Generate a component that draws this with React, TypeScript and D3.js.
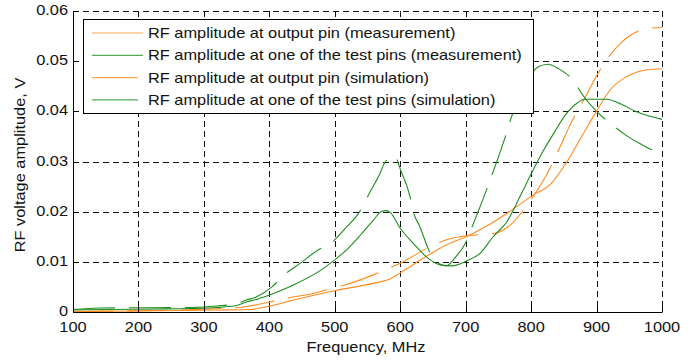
import React, { useRef, useEffect } from "react";
import * as d3 from "d3";

// frequency (MHz) / amplitude (V)
const outMeasFreq = [100, 172, 289, 325, 360, 401, 411, 432, 467, 495, 518, 559, 579, 600, 656, 679, 712, 745, 765, 801, 819, 847, 857, 888, 898, 936, 956, 977, 1000];
const outMeasAmp = [0.0001, 0.0002, 0.0005, 0.0007, 0.001, 0.002, 0.0023, 0.0029, 0.0037, 0.0047, 0.0055, 0.0074, 0.0085, 0.0097, 0.0137, 0.0147, 0.0153, 0.0157, 0.017, 0.0226, 0.0263, 0.0337, 0.0366, 0.0441, 0.0466, 0.0535, 0.0555, 0.0565, 0.0567];

const testMeasFreq = [100, 140, 280, 320, 350, 365, 380, 404, 421, 448, 475, 495, 517, 537, 553, 569, 577, 592, 600, 615, 620, 630, 646, 660, 670, 685, 700, 709, 732, 741, 762, 770, 790, 811, 826, 842, 867, 877, 900, 926, 944, 970, 1000];
const testMeasAmp = [0.0005, 0.0008, 0.0009, 0.0012, 0.0017, 0.0024, 0.003, 0.005, 0.0072, 0.0098, 0.0124, 0.0138, 0.0168, 0.0198, 0.0237, 0.0276, 0.0299, 0.0311, 0.0285, 0.023, 0.02, 0.017, 0.0117, 0.0096, 0.0092, 0.011, 0.0138, 0.0167, 0.0244, 0.0276, 0.0355, 0.0389, 0.045, 0.0489, 0.0494, 0.0485, 0.0457, 0.0436, 0.04, 0.0371, 0.0353, 0.0333, 0.0313];

const outSimFreq = [100, 200, 270, 320, 371, 401, 437, 477, 498, 539, 569, 584, 600, 635, 671, 702, 737, 768, 803, 829, 854, 880, 898, 923, 946, 977, 1000];
const outSimAmp = [0.0001, 0.0002, 0.0003, 0.0004, 0.0005, 0.0012, 0.0024, 0.0036, 0.0042, 0.0052, 0.006, 0.0066, 0.0078, 0.0107, 0.0134, 0.0151, 0.0175, 0.0201, 0.0233, 0.0254, 0.0298, 0.0356, 0.0396, 0.0446, 0.0469, 0.0483, 0.0485];

const testSimFreq = [100, 150, 230, 280, 320, 350, 365, 380, 396, 437, 477, 498, 518, 539, 559, 572, 579, 585, 600, 620, 640, 661, 679, 702, 722, 742, 763, 783, 803, 818, 834, 852, 870, 882, 915, 938, 961, 1000];
const testSimAmp = [0.0004, 0.0005, 0.0006, 0.0007, 0.0009, 0.0013, 0.002, 0.0025, 0.0032, 0.0054, 0.0082, 0.0102, 0.0124, 0.0153, 0.0183, 0.0201, 0.0202, 0.0198, 0.0167, 0.0137, 0.011, 0.0094, 0.0092, 0.0102, 0.0117, 0.015, 0.018, 0.023, 0.0283, 0.032, 0.0355, 0.0392, 0.0416, 0.0424, 0.0424, 0.0414, 0.0399, 0.0384];

const xTicks = [100, 200, 300, 400, 500, 600, 700, 800, 900, 1000];
const yTicks = [0, 0.01, 0.02, 0.03, 0.04, 0.05, 0.06];

const legendLabels = [
  "RF amplitude at output pin (measurement)",
  "RF amplitude at one of the test pins (measurement)",
  "RF amplitude at output pin (simulation)",
  "RF amplitude at one of the test pins (simulation)",
];

const ORANGE = "#ff8a1c";
const GREEN = "#1f8c1f";

export default function App() {
  const ref = useRef<SVGSVGElement>(null);
  const width = 697;
  const height = 360;
  const left = 73;
  const right = 662;
  const top = 11;
  const bottom = 312;
  const font = "'Liberation Sans', Arial, Helvetica, sans-serif";
  const stretch = 1.17; // the reference font is drawn wider than Arial

  useEffect(() => {
    const svg = d3.select(ref.current);
    svg.selectAll("*").remove();

    const x = d3.scaleLinear().domain([100, 1000]).range([left, right]);
    const y = d3.scaleLinear().domain([0, 0.06]).range([bottom, top]);

    function addText(g, tx, ty, str, anchor = "start", rotate = 0) {
      return g
        .append("text")
        .attr("transform", `translate(${tx},${ty})${rotate ? ` rotate(${rotate})` : ""} scale(${stretch},1)`)
        .attr("text-anchor", anchor)
        .text(str);
    }

    // grid
    const grid = svg.append("g").attr("stroke", "#111").attr("stroke-width", 1).attr("stroke-dasharray", "6,4");
    xTicks.slice(1).forEach((t) => {
      const px = Math.round(x(t)) + 0.5;
      grid.append("line").attr("x1", px).attr("x2", px).attr("y1", top).attr("y2", bottom);
    });
    yTicks.slice(1).forEach((t) => {
      const py = Math.round(y(t)) + 0.5;
      grid.append("line").attr("x1", left).attr("x2", right).attr("y1", py).attr("y2", py);
    });

    const series = [
      { f: outMeasFreq, a: outMeasAmp, color: ORANGE, dash: "40,14" },
      { f: testMeasFreq, a: testMeasAmp, color: GREEN, dash: "42,14" },
      { f: outSimFreq, a: outSimAmp, color: ORANGE, dash: null },
      { f: testSimFreq, a: testSimAmp, color: GREEN, dash: null },
    ];

    const gen = d3
      .line<[number, number]>()
      .x((d) => d[0])
      .y((d) => d[1])
      .curve(d3.curveMonotoneX);

    series.forEach((s) => {
      const pts: [number, number][] = s.f.map((f, i) => [x(f), y(s.a[i])]);
      svg
        .append("path")
        .attr("d", gen(pts))
        .attr("fill", "none")
        .attr("stroke", s.color)
        .attr("stroke-width", 1.1)
        .attr("stroke-dasharray", s.dash);
    });

    // axes
    const axes = svg.append("g").attr("stroke", "#000").attr("stroke-width", 1);
    axes.append("line").attr("x1", left + 0.5).attr("x2", left + 0.5).attr("y1", top).attr("y2", bottom + 0.5);
    axes.append("line").attr("x1", left).attr("x2", right + 0.5).attr("y1", bottom + 0.5).attr("y2", bottom + 0.5);
    xTicks.forEach((t) => {
      const px = Math.round(x(t)) + 0.5;
      axes.append("line").attr("x1", px).attr("x2", px).attr("y1", bottom).attr("y2", bottom - 5);
    });
    yTicks.forEach((t) => {
      const py = Math.round(y(t)) + 0.5;
      axes.append("line").attr("x1", left).attr("x2", left + 5).attr("y1", py).attr("y2", py);
    });

    const labels = svg.append("g").attr("font-family", font).attr("font-size", 14).attr("fill", "#111");
    xTicks.forEach((t) => addText(labels, x(t), bottom + 20, t, "middle"));
    yTicks.forEach((t) => addText(labels, left - 5, y(t) + 4, t === 0 ? "0" : t.toFixed(2), "end"));
    addText(labels, 366, 352, "Frequency, MHz", "middle");
    addText(labels, 25, 165, "RF voltage amplitude, V", "middle", -90);

    // legend
    const lg = svg.append("g").attr("font-family", font).attr("font-size", 14).attr("fill", "#111");
    lg.append("rect")
      .attr("x", 83.5)
      .attr("y", 19.5)
      .attr("width", 450)
      .attr("height", 94)
      .attr("fill", "#fff")
      .attr("stroke", "#000")
      .attr("stroke-width", 1);
    legendLabels.forEach((lab, i) => {
      const ly = 33 + i * 22.3;
      const s = series[i];
      lg.append("line")
        .attr("x1", 92)
        .attr("x2", s.dash ? 143 : 138)
        .attr("y1", ly)
        .attr("y2", ly)
        .attr("stroke", s.color)
        .attr("stroke-opacity", 0.75)
        .attr("stroke-width", 1.2);
      addText(lg, 148, ly + 5, lab);
    });
  });

  return (
    <svg
      ref={ref}
      width={width}
      height={height}
      style={{ position: "absolute", left: 0, top: 0, background: "#fff" }}
    ></svg>
  );
}
